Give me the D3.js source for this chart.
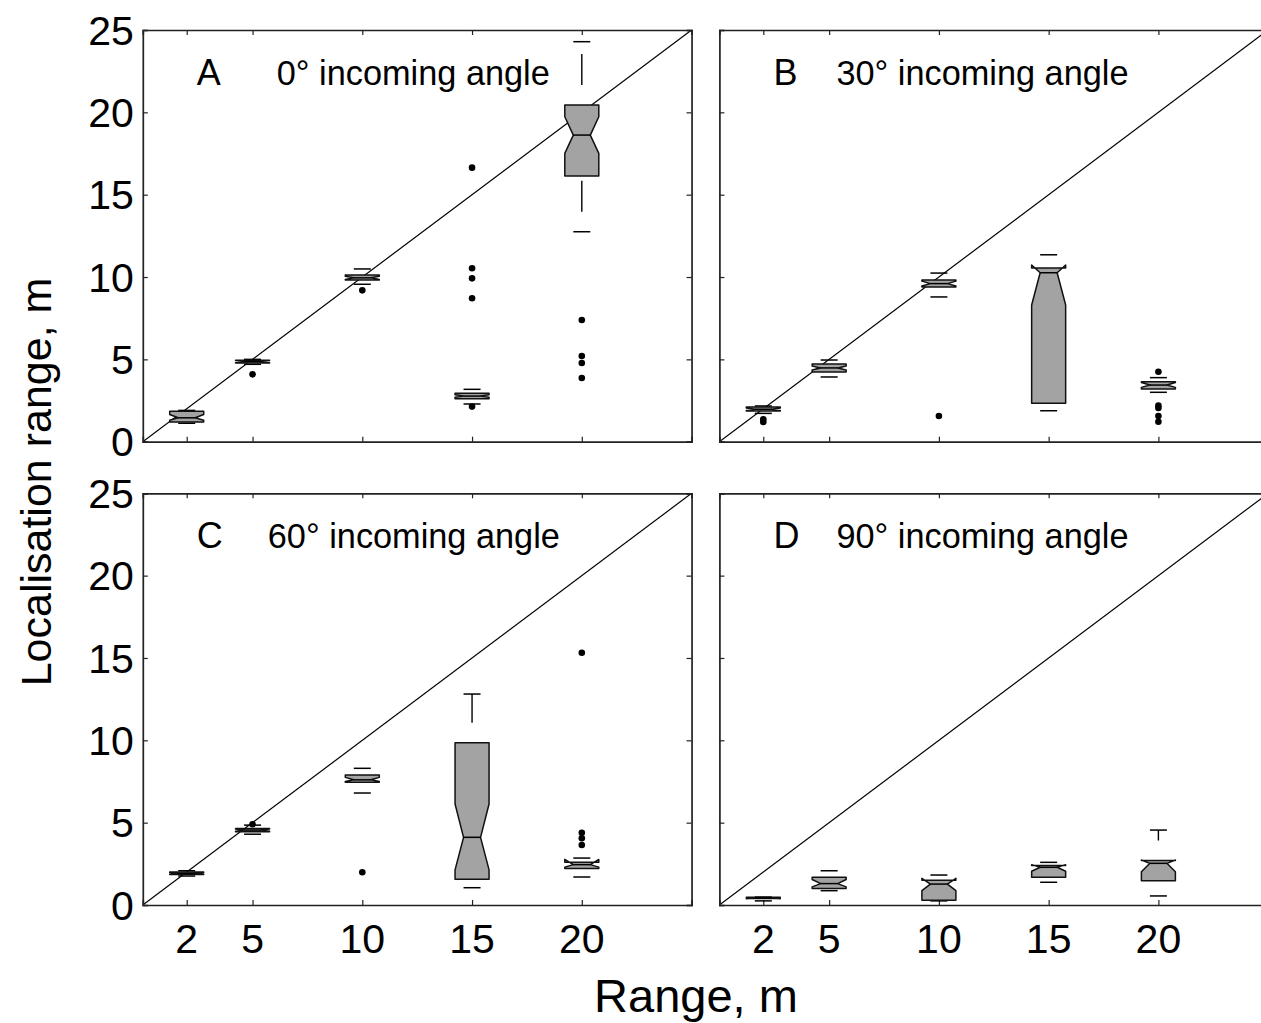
<!DOCTYPE html>
<html>
<head>
<meta charset="utf-8">
<script src="https://cdn.jsdelivr.net/npm/d3@7"></script>
<style>
  html, body { margin: 0; padding: 0; background: #fff; }
  svg { display: block; }
  text { font-family: "Liberation Sans", Arial, Helvetica, sans-serif; fill: #000; }
</style>
</head>
<body>
<svg id="chart" width="1261" height="1023"></svg>
<script>
// ---------------- data ----------------
const ranges = [2, 5, 10, 15, 20];
const xTicks = [2, 5, 10, 15, 20];
const yTicks = [0, 5, 10, 15, 20, 25];
const panelLetters = ["A", "B", "C", "D"];
const panelTitles = ["0° incoming angle", "30° incoming angle", "60° incoming angle", "90° incoming angle"];

// each box: [whiskerLow, q1, notchLow, median, notchHigh, q3, whiskerHigh]
const boxesA = [
  [1.12, 1.2, 1.3, 1.45, 1.65, 1.85, 1.9],
  [4.7, 4.78, 4.8, 4.87, 4.93, 4.95, 5.0],
  [9.56, 9.82, 9.85, 9.95, 10.05, 10.12, 10.49],
  [2.29, 2.61, 2.7, 2.77, 2.85, 2.94, 3.18],
  [12.75, 16.13, 17.51, 18.62, 19.73, 20.44, 24.29]
];
const outliersA = [[], [4.09], [9.19], [2.13, 8.71, 9.92, 10.53, 16.64], [3.87, 4.78, 5.2, 7.39]];

const boxesB = [
  [1.72, 1.86, 1.9, 1.97, 2.04, 2.1, 2.17],
  [3.93, 4.23, 4.35, 4.48, 4.6, 4.72, 4.96],
  [8.79, 9.39, 9.45, 9.6, 9.75, 9.82, 10.24],
  [1.88, 2.33, 8.3, 10.26, 10.73, 10.55, 11.35],
  [3.0, 3.2, 3.3, 3.44, 3.6, 3.64, 3.89]
];
const outliersB = [[1.2, 1.36], [], [1.56], [], [1.21, 1.56, 2.05, 2.2, 4.25]];

const boxesC = [
  [1.76, 1.85, 1.87, 1.92, 1.97, 2.0, 2.08],
  [4.3, 4.45, 4.48, 4.55, 4.62, 4.65, 4.85],
  [6.8, 7.45, 7.5, 7.6, 7.75, 7.9, 8.3],
  [1.05, 1.56, 2.13, 4.11, 6.13, 9.85, 12.81],
  [1.7, 2.22, 2.3, 2.45, 2.77, 2.6, 2.85]
];
const outliersC = [[], [4.9], [1.99], [], [3.64, 4.05, 4.39, 15.32]];

const boxesD = [
  [0.25, 0.4, 0.38, 0.42, 0.46, 0.47, 0.48],
  [0.87, 1.0, 1.1, 1.3, 1.55, 1.68, 2.08],
  [0.25, 0.29, 0.87, 1.27, 1.62, 1.5, 1.82],
  [1.38, 1.68, 2.05, 2.29, 2.45, 2.4, 2.59],
  [0.55, 1.48, 2.02, 2.53, 2.73, 2.7, 4.55]
];
const outliersD = [[], [], [], [], []];

const panelBoxes = [boxesA, boxesB, boxesC, boxesD];
const panelOutliers = [outliersA, outliersB, outliersC, outliersD];

// ---------------- layout ----------------
const svg = d3.select("#chart");
const pxPerUnit = 21.95;
const panelLefts = [142.8, 719.4, 142.8, 719.4];
const panelTops = [30, 30, 493.3, 493.3];
const panelH = 411.7;
const boxHalf = 17;
const FILL = "#a3a3a3";

const defs = svg.append("defs");

panelLetters.forEach((letter, p) => {
  const left = panelLefts[p], top = panelTops[p];
  const x = d3.scaleLinear().domain([0, 25]).range([left, left + 25 * pxPerUnit]);
  const y = d3.scaleLinear().domain([0, 25]).range([top + panelH, top]);
  const g = svg.append("g");

  defs.append("clipPath").attr("id", "clip" + p)
    .append("rect").attr("x", left).attr("y", top)
    .attr("width", 25 * pxPerUnit).attr("height", panelH);

  // diagonal y = x
  g.append("line")
    .attr("clip-path", "url(#clip" + p + ")")
    .attr("x1", x(0)).attr("y1", y(0)).attr("x2", x(25)).attr("y2", y(25))
    .attr("stroke", "#000").attr("stroke-width", 1.2);

  // axes (inward ticks on all sides)
  const bottom = d3.axisBottom(x).tickValues(xTicks).tickSize(-5).tickFormat("");
  const topAx = d3.axisTop(x).tickValues(xTicks).tickSize(-5).tickFormat("");
  const leftAx = d3.axisLeft(y).tickValues(yTicks).tickSize(-5).tickFormat("");
  const rightAx = d3.axisRight(y).tickValues(yTicks).tickSize(-5).tickFormat("");
  const axG = [
    g.append("g").attr("transform", `translate(0,${top + panelH})`).call(bottom),
    g.append("g").attr("transform", `translate(0,${top})`).call(topAx),
    g.append("g").attr("transform", `translate(${left},0)`).call(leftAx),
    g.append("g").attr("transform", `translate(${left + 25 * pxPerUnit},0)`).call(rightAx)
  ];
  axG.forEach(a => {
    a.select(".domain").attr("stroke", "#222").attr("stroke-width", 1.7);
    a.selectAll(".tick line").attr("stroke", "#222").attr("stroke-width", 1.2);
  });

  // tick labels: y on left panels, x on bottom panels
  if (p === 0 || p === 2) {
    g.selectAll(".ylab").data(yTicks).enter().append("text")
      .attr("x", left - 9).attr("y", d => y(d)).attr("dy", "0.36em")
      .attr("text-anchor", "end").attr("font-size", 41).text(d => d);
  }
  if (p === 2 || p === 3) {
    g.selectAll(".xlab").data(xTicks).enter().append("text")
      .attr("x", d => x(d)).attr("y", top + panelH + 48)
      .attr("text-anchor", "middle").attr("font-size", 41).text(d => d);
  }

  // panel labels
  g.append("text").attr("x", left + 54).attr("y", top + 55)
    .attr("font-size", 36).text(letter);
  const titleX = (p === 0) ? left + 134 : (p === 2 ? left + 125 : left + 117);
  g.append("text").attr("x", titleX).attr("y", top + 55)
    .attr("font-size", 34.3).text(panelTitles[p]);

  // boxes
  const boxes = panelBoxes[p];
  boxes.forEach((b, i) => {
    const [wlo, q1, nlo, med, nhi, q3, whi] = b;
    const cx = x(ranges[i]);
    const l = cx - boxHalf, r = cx + boxHalf;
    const nl = cx - boxHalf / 2, nr = cx + boxHalf / 2;

    // whiskers (dashed, drawn upward)
    [[q3, whi], [wlo, q1]].forEach(([a, c]) => {
      g.append("line").attr("x1", cx).attr("x2", cx).attr("y1", y(a)).attr("y2", y(c))
        .attr("stroke", "#000").attr("stroke-width", 1.4)
        .attr("stroke-dasharray", "31 20").attr("stroke-dashoffset", 31);
    });
    // caps
    [wlo, whi].forEach(v => {
      g.append("line").attr("x1", nl).attr("x2", nr).attr("y1", y(v)).attr("y2", y(v))
        .attr("stroke", "#000").attr("stroke-width", 1.5);
    });

    // notched box outline (MATLAB style)
    const pts = [
      [l, y(q1)], [l, y(nlo)], [nl, y(med)], [l, y(nhi)], [l, y(q3)],
      [r, y(q3)], [r, y(nhi)], [nr, y(med)], [r, y(nlo)], [r, y(q1)], [l, y(q1)]
    ];
    g.append("path").attr("d", d3.line()(pts) + "Z")
      .attr("fill", FILL).attr("stroke", "#111").attr("stroke-width", 1.5)
      .attr("stroke-linejoin", "round");
    // median
    g.append("line").attr("x1", nl).attr("x2", nr).attr("y1", y(med)).attr("y2", y(med))
      .attr("stroke", "#000").attr("stroke-width", 1.5);

    // outliers
    g.selectAll(null).data(panelOutliers[p][i]).enter().append("circle")
      .attr("cx", cx).attr("cy", d => y(d)).attr("r", 3.3).attr("fill", "#000");
  });
});

// axis titles
svg.append("text").attr("transform", "translate(51,482) rotate(-90)")
  .attr("text-anchor", "middle").attr("font-size", 43).text("Localisation range, m");
svg.append("text").attr("x", 696).attr("y", 1012)
  .attr("text-anchor", "middle").attr("font-size", 47).text("Range, m");
</script>
</body>
</html>
